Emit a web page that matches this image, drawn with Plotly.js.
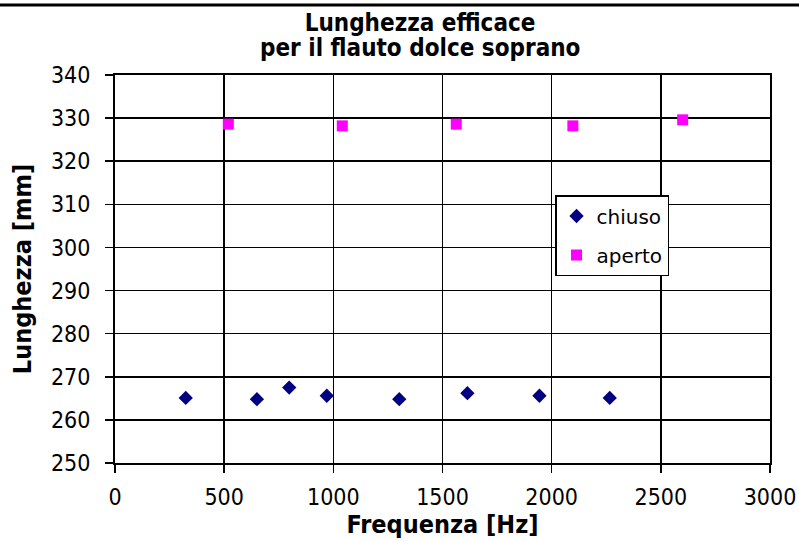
<!DOCTYPE html>
<html>
<head>
<meta charset="utf-8">
<script src="https://cdn.plot.ly/plotly-3.0.1.min.js"></script>
<style>
  html, body { margin: 0; padding: 0; background: #fff; }
  #chart { width: 799px; height: 541px; }
</style>
</head>
<body>
<div id="chart"></div>
<script>
const chiusoFreq = [324, 650, 798, 970, 1302, 1614, 1944, 2266];
const chiusoLen  = [265.1, 264.8, 267.5, 265.6, 264.8, 266.2, 265.6, 265.1];
const apertoFreq = [519, 1041, 1563, 2097, 2600];
const apertoLen  = [328.6, 328.2, 328.6, 328.2, 329.6];

const xTicks = [0, 500, 1000, 1500, 2000, 2500, 3000];
const yTicks = [250, 260, 270, 280, 290, 300, 310, 320, 330, 340];

const narrow = '"DejaVu Sans Condensed", "Liberation Sans Narrow", "Arial Narrow", sans-serif';

const traces = [
  {
    x: chiusoFreq, y: chiusoLen, name: 'chiuso', type: 'scatter', mode: 'markers',
    legendgroup: 'a',
    marker: { symbol: 'diamond', size: 11, color: '#000080' }
  },
  {
    x: apertoFreq, y: apertoLen, name: 'aperto', type: 'scatter', mode: 'markers',
    legendgroup: 'b',
    marker: { symbol: 'square', size: 11, color: '#FF00FF' }
  }
];

const axisCommon = {
  showgrid: true, gridcolor: '#000', gridwidth: 1.5,
  showline: true, linecolor: '#000', linewidth: 2, mirror: true,
  ticks: 'outside', ticklen: 8, tickwidth: 1.5, tickcolor: '#000',
  zeroline: false,
  tickfont: { family: narrow, size: 23, color: '#000' }
};

const layout = {
  width: 799, height: 541,
  margin: { l: 115, r: 29, t: 75, b: 78 },
  paper_bgcolor: '#fff', plot_bgcolor: '#fff',
  showlegend: true,
  title: {
    text: 'Lunghezza efficace',
    font: { family: narrow, size: 24, color: '#000', weight: 'bold' },
    x: 0.5257, xanchor: 'center', xref: 'container',
    y: 0.959, yanchor: 'middle', yref: 'container'
  },
  annotations: [
    {
      text: 'per il flauto dolce soprano', showarrow: false,
      xref: 'paper', yref: 'paper', x: 0.4656, y: 1.0696,
      xanchor: 'center', yanchor: 'middle',
      font: { family: narrow, size: 24, color: '#000', weight: 'bold' }
    }
  ],
  xaxis: Object.assign({}, axisCommon, {
    range: [0, 3000], tickvals: xTicks, ticktext: xTicks.map(String),
    ticklabelstandoff: 4,
    title: { text: 'Frequenza [Hz]', standoff: 2,
             font: { family: narrow, size: 25, color: '#000', weight: 'bold' } }
  }),
  yaxis: Object.assign({}, axisCommon, {
    range: [250, 340], tickvals: yTicks, ticktext: yTicks.map(String),
    ticklabelstandoff: 10,
    title: { text: 'Lunghezza [mm]', standoff: 12,
             font: { family: narrow, size: 25, color: '#000', weight: 'bold' } }
  }),
  legend: {
    x: 0.6718, y: 0.6907, xanchor: 'left', yanchor: 'top',
    bgcolor: '#fff', bordercolor: '#000', borderwidth: 1.5,
    font: { family: '"DejaVu Sans", Verdana, sans-serif', size: 20, color: '#000' },
    traceorder: 'grouped', tracegroupgap: 10
  },
  shapes: [
    {
      type: 'line', xref: 'paper', yref: 'paper',
      x0: -0.1756, x1: 1.0443, y0: 1.1804, y1: 1.1804,
      line: { color: '#000', width: 3 }
    }
  ]
};

Plotly.newPlot('chart', traces, layout, { displayModeBar: false, staticPlot: true });
</script>
</body>
</html>
